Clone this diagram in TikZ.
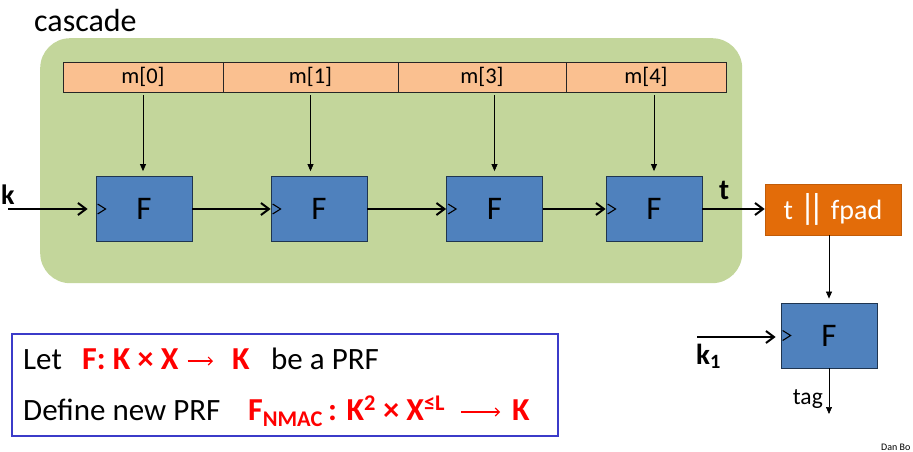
\documentclass[tikz,border=0pt]{standalone}
\usepackage{fontspec}
\setmainfont{Carlito}
\usetikzlibrary{arrows.meta,calc}
\definecolor{cascgreen}{HTML}{C3D69B}
\definecolor{msgorange}{HTML}{FAC090}
\definecolor{fblue}{HTML}{4F81BD}
\definecolor{fborder}{HTML}{1F3550}
\definecolor{padorange}{HTML}{E36C09}
\definecolor{boxblue}{HTML}{3B3BC9}
\definecolor{prfred}{HTML}{FF0000}
\newcommand{\fsz}[1]{\fontsize{#1}{#1}\selectfont}
\begin{document}
\begin{tikzpicture}[x=1pt,y=-1pt,
  fbox/.style={draw=fborder,fill=fblue,line width=0.8pt,minimum width=96pt,minimum height=65pt,inner sep=0pt,font=\fsz{33}},
  mbox/.style={draw=black!85,fill=msgorange,line width=0.6pt,minimum height=30pt,inner sep=0pt,font=\fsz{22.5}},
  chain/.style={line width=2pt,-{Straight Barb[length=8pt,width=12pt,line width=2pt]}},
  feed/.style={line width=0.7pt,-{Triangle[length=7pt,width=6pt]}},
  redarrow/.style={draw=prfred,line width=1.1pt,-{Straight Barb[length=4pt,width=8pt,line width=1.1pt]}},
  clockmark/.style={line width=1.1pt},
  lbl/.style={inner sep=0pt,anchor=base west},
  bodytxt/.style={lbl,font=\fsz{31}},
  redtxt/.style={lbl,font=\fsz{32}\bfseries,text=prfred}]
\useasboundingbox (0,0) rectangle (913,452);
\clip (0,0) rectangle (913,452);

% cascade region
\node[fill=cascgreen,rounded corners=30pt,minimum width=702pt,minimum height=245pt,anchor=north west,inner sep=0pt] (cascbox) at (40,38) {};
\node[lbl,font=\fsz{32}] (casclbl) at (34,32) {cascade};

% message blocks
\node[mbox,minimum width=160pt] (m0) at (143,77) {m[0]};
\node[mbox,minimum width=175pt] (m1) at (310.5,77) {m[1]};
\node[mbox,minimum width=168pt] (m3) at (482,77) {m[3]};
\node[mbox,minimum width=160pt] (m4) at (646,77) {m[4]};

% PRF boxes
\node[fbox] (F1) at (144,209) {F};
\node[fbox] (F2) at (319,209) {F};
\node[fbox] (F3) at (494.5,209) {F};
\node[fbox] (F4) at (654,209) {F};
\node[fill=padorange,draw=padorange!85!black,line width=0.6pt,minimum width=136pt,minimum height=51pt,inner sep=0pt,text=white,font=\fsz{28}] (fpad) at (833,209.5) {t {\fsz{36}|\kern-0.22em|} fpad};
\node[fbox] (F5) at (829,335.5) {F};

% clock marks
\foreach \b in {F1,F2,F3,F4,F5}
  \draw[clockmark] ($(\b.west)+(2,-5)$) -- ++(8,5) -- ++(-8,5);

% message feeds
\draw[feed,shorten <=3pt,shorten >=5pt] (m0.south) -- (m0.south |- F1.north);
\draw[feed,shorten <=3pt,shorten >=5pt] (m1.south) -- (m1.south |- F2.north);
\draw[feed,shorten <=3pt,shorten >=5pt] (m3.south -| F3.north) -- (F3.north);
\draw[feed,shorten <=3pt,shorten >=5pt] (m4.south -| F4.north) -- (F4.north);

% key chain
\coordinate (kstart) at (8,209);
\node[lbl,font=\fsz{28}\bfseries] (klbl) at (1,204) {k};
\draw[chain,shorten >=8pt] (kstart) -- (F1.west);
\draw[chain] (F1.east) -- (F2.west);
\draw[chain] (F2.east) -- (F3.west);
\draw[chain] (F3.east) -- (F4.west);
\draw[chain] (F4.east) -- (fpad.west |- F4.east);
\node[lbl,font=\fsz{29}\bfseries] (tlbl) at (719,199) {t};

% outer PRF
\draw[feed,shorten >=4pt] (fpad.south -| F5.north) -- (F5.north);
\coordinate (k1start) at (697,337);
\draw[chain,shorten >=5pt] (k1start) -- (k1start -| F5.west);
\node[lbl,font=\fsz{29}\bfseries] (k1lbl) at (696,364) {k\textsubscript{1}};
\coordinate (tagend) at (829,414);
\draw[feed] (F5.south) -- (tagend);
\node[inner sep=0pt,anchor=base east,font=\fsz{23.5}] (taglbl) at (823,404) {tag};

% definition box
\node[draw=boxblue,line width=2pt,minimum width=546pt,minimum height=102pt,anchor=north west,inner sep=0pt] (defbox) at (11,333) {};
\node[bodytxt] (letlbl) at (23,369) {Let};
\node[redtxt] (fsigA) at (82,369) {F: K × X};
\node[redtxt] (fsigK) at (232,369) {K};
\draw[redarrow,shorten <=9pt,shorten >=19pt] ($(fsigA.base east)+(0,-8)$) -- ($(fsigK.base west)+(0,-8)$);
\node[bodytxt] (prflbl) at (271,369) {be a PRF};
\node[bodytxt] (deflbl) at (23,420) {Define new PRF};
\node[redtxt] (fnmacA) at (248,420) {F\textsubscript{NMAC}\,: K\textsuperscript{2} × X\textsuperscript{≤L}};
\node[redtxt] (fnmacK) at (512,420) {K};
\draw[redarrow,shorten <=16pt,shorten >=12pt] ($(fnmacA.base east)+(0,-8)$) -- ($(fnmacK.base west)+(0,-8)$);

% credit
\node[lbl,font=\fsz{10}] (credit) at (881,450) {Dan Bo};
\end{tikzpicture}
\end{document}
